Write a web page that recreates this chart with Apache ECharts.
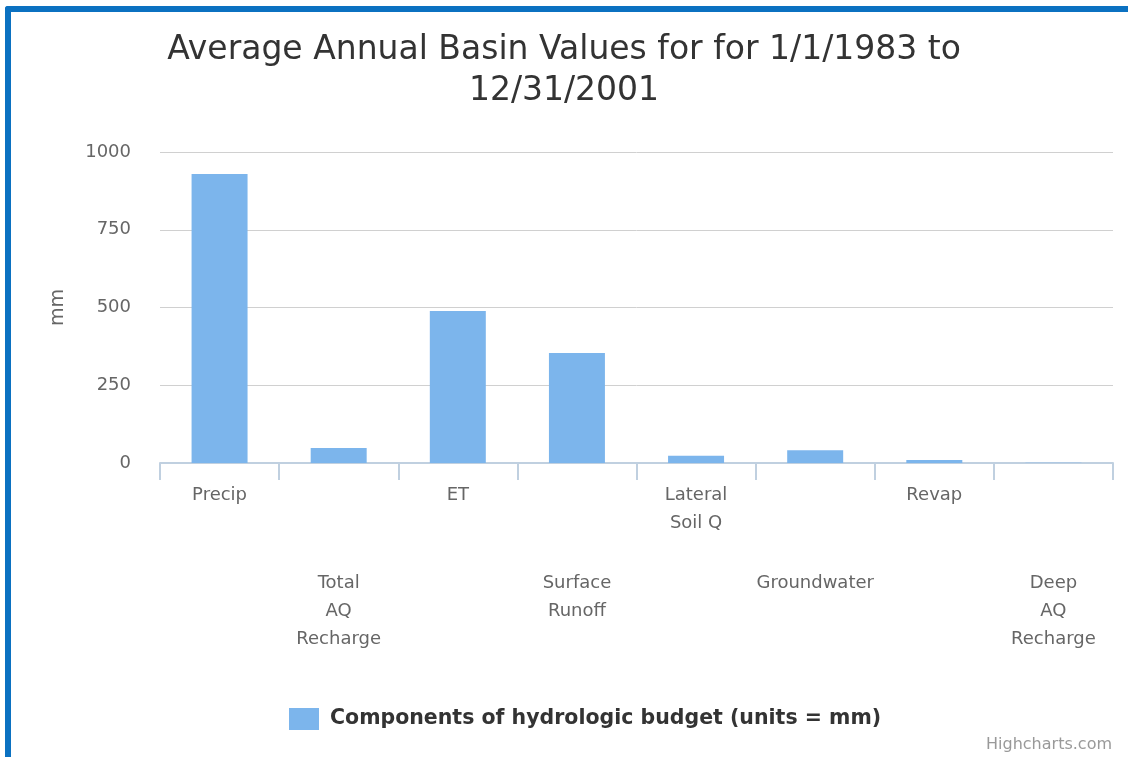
<!DOCTYPE html>
<html>
<head>
<meta charset="utf-8">
<script src="https://cdn.jsdelivr.net/npm/echarts@6/dist/echarts.min.js"></script>
<style>
  html, body { margin: 0; padding: 0; background: #fff; }
  #chart { position: absolute; left: 0; top: 0; width: 1128px; height: 757px; }
  #frame {
    position: absolute; left: 5px; top: 6px; width: 1140px; height: 780px;
    border-top: 6px solid #0b71c1; border-left: 6px solid #0b71c1;
    border-top-left-radius: 3px; pointer-events: none;
  }
</style>
</head>
<body>
<div id="chart"></div>
<div id="frame"></div>
<script>
const categories = ['Precip', 'Total\nAQ\nRecharge', 'ET', 'Surface\nRunoff', 'Lateral\nSoil Q', 'Groundwater', 'Revap', 'Deep\nAQ\nRecharge']
const budgetValues = [929, 48, 489, 354, 23, 41, 10, 0.5]
const yTicks = [0, 250, 500, 750, 1000]

const chart = echarts.init(document.getElementById('chart'))
const font = 'DejaVu Sans'

const option = {
    animation: false,
    title: {
        text: 'Average Annual Basin Values for for 1/1/1983 to\n12/31/2001',
        left: 'center',
        top: 25,
        textStyle: {
            fontFamily: font,
            fontWeight: 'normal',
            fontSize: 33,
            lineHeight: 41,
            color: '#333'
        }
    },
    legend: {
        bottom: 22,
        left: 284,
        itemWidth: 30,
        itemHeight: 22,
        itemGap: 10,
        icon: 'rect',
        textStyle: {
            fontFamily: font,
            fontWeight: 'bold',
            fontSize: 20.5,
            color: '#333',
            padding: [0, 0, 0, 6]
        }
    },
    graphic: [{
        type: 'text',
        right: 16,
        bottom: 4,
        style: { text: 'Highcharts.com', fontFamily: font, fontSize: 16, fill: '#999' }
    }],
    grid: { left: 160, right: 15, top: 152, bottom: 294 },
    xAxis: {
        type: 'category',
        data: categories,
        axisLine: { lineStyle: { color: '#c0d0e0', width: 2 } },
        axisTick: { show: true, length: 17, lineStyle: { color: '#c0d0e0', width: 2 } },
        axisLabel: {
            interval: 0,
            margin: 18,
            fontFamily: font,
            fontSize: 18,
            lineHeight: 28,
            color: '#666',
            formatter: (val, idx) => idx % 2 ? '{sp|}\n' + val : val,
            rich: { sp: { height: 88, lineHeight: 88 } }
        }
    },
    yAxis: {
        type: 'value',
        min: 0,
        max: 1000,
        interval: 250,
        name: 'mm',
        nameLocation: 'middle',
        nameGap: 92,
        nameTextStyle: { fontFamily: font, fontSize: 19, color: '#666' },
        axisLabel: {
            margin: 29,
            fontFamily: font,
            fontSize: 18,
            color: '#666',
            formatter: v => yTicks.includes(v) ? String(v) : ''
        },
        splitLine: { lineStyle: { color: '#d0d0d0', width: 1 } }
    },
    series: [{
        name: 'Components of hydrologic budget (units = mm)',
        type: 'bar',
        data: budgetValues,
        barWidth: '47%',
        itemStyle: { color: '#7cb5ec' }
    }]
}

chart.setOption(option)
</script>
</body>
</html>
